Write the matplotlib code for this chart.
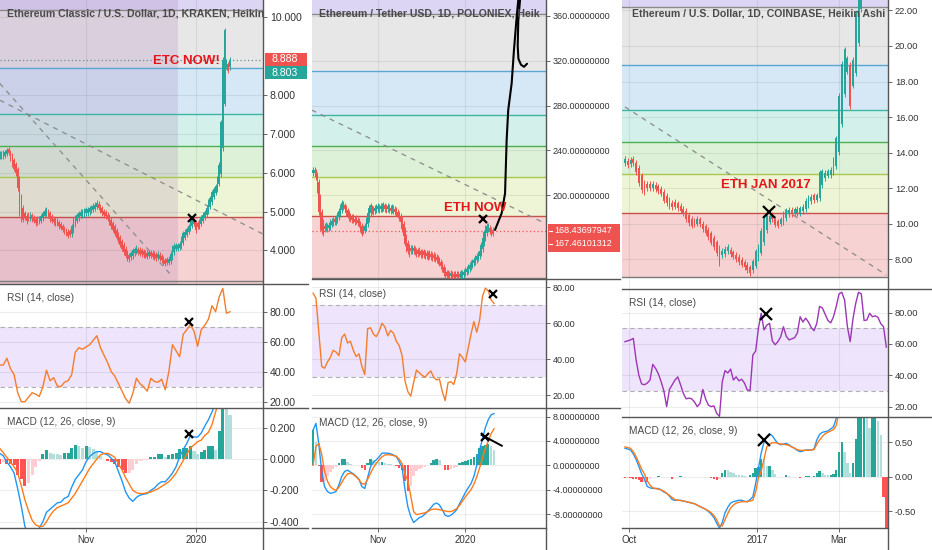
import numpy as np
import pandas as pd
import matplotlib
matplotlib.use("Agg")
import matplotlib.pyplot as plt
import matplotlib.dates as mdates
from matplotlib.lines import Line2D
from matplotlib.patches import Rectangle
from matplotlib.ticker import FixedLocator, FixedFormatter, FormatStrFormatter

plt.rcParams["font.family"] = ["Liberation Sans", "DejaVu Sans"]

W, H = 932, 550
UP, DOWN = "#26a69a", "#ef5350"
ORANGE, PURPLE = "#f57c2a", "#9c36b5"
MACD_BLUE, MACD_ORANGE = "#2196f3", "#ff7a1a"
SEP = "#555555"

# ---------------- left: ETC / USD (Kraken) ----------------
LEFT_START = "2019-09-14"
left_close = [
    6.40, 6.42, 6.45, 6.52, 6.58, 6.50, 6.35, 6.20, 6.10, 5.98,
    5.60, 4.95, 4.80, 4.78, 4.85, 4.75, 4.82, 4.88, 4.80, 4.76,
    4.70, 4.72, 4.80, 4.88, 4.96, 5.02, 5.05, 4.90, 4.80, 4.76,
    4.72, 4.70, 4.68, 4.62, 4.58, 4.53, 4.48, 4.42, 4.38, 4.40,
    4.62, 4.80, 4.85, 4.90, 4.96, 4.92, 4.95, 4.98, 4.96, 5.00,
    5.05, 5.08, 5.10, 5.18, 5.22, 5.10, 5.02, 4.95, 4.90, 4.88,
    4.82, 4.72, 4.62, 4.53, 4.42, 4.33, 4.25, 4.15, 4.05, 3.95,
    3.86, 3.80, 3.77, 3.88, 4.00, 4.02, 3.98, 3.94, 3.92, 3.90,
    3.88, 3.86, 3.84, 3.88, 3.86, 3.84, 3.82, 3.80, 3.82, 3.79,
    3.75, 3.70, 3.66, 3.68, 3.76, 3.92, 4.08, 4.12, 4.05, 4.10,
    4.12, 4.30, 4.45, 4.48, 4.55, 4.62, 4.72, 4.80, 4.68, 4.52,
    4.60, 4.75, 4.85, 4.92, 4.98, 5.10, 5.25, 5.35, 5.50, 5.58,
    5.65, 5.85, 6.20, 7.30, 8.90, 9.65, 8.85, 8.62, 8.90,
]
left_rsi = [
    44.4, 44.5, 49, 42, 38, 26, 20, 20, 23, 26,
    25, 23.5, 30, 41, 34, 36, 30.5, 30, 33, 34,
    38, 53, 56, 55, 56.5, 58, 61, 64, 56, 51,
    46, 40, 37, 32, 27, 22, 19, 25.6, 35.6, 32,
    30, 27, 35.6, 33.5, 33, 35, 28, 40, 58, 54,
    50, 65, 68, 71.5, 67, 57, 68, 71, 75, 84,
    80, 90, 95.6, 79, 80,
]
left_macd = [
    0.036, 0.02, -0.02, -0.05, -0.09, -0.19, -0.30, -0.43, -0.48, -0.49,
    -0.47, -0.44, -0.40, -0.34, -0.32, -0.30, -0.28, -0.275, -0.25, -0.24,
    -0.18, -0.13, -0.10, -0.07, -0.017, 0.015, 0.036, 0.047, 0.047, 0.035,
    0.026, 0.005, -0.02, -0.08, -0.14, -0.21, -0.25, -0.27, -0.245, -0.23,
    -0.225, -0.22, -0.20, -0.185, -0.16, -0.145, -0.145, -0.12, -0.09, -0.05,
    0.015, 0.06, 0.10, 0.15, 0.14, 0.14, 0.165, 0.21, 0.25, 0.30,
    0.36, 0.56, 0.80, 0.83, 0.84,
]
left_signal = [
    0.068, 0.04, 0.01, -0.02, -0.05, -0.09, -0.17, -0.26, -0.33, -0.39,
    -0.42, -0.43, -0.43, -0.40, -0.36, -0.33, -0.31, -0.30, -0.29, -0.28,
    -0.25, -0.22, -0.18, -0.14, -0.10, -0.06, -0.03, 0.0, 0.026, 0.035,
    0.036, 0.025, 0.01, -0.03, -0.07, -0.12, -0.16, -0.20, -0.215, -0.22,
    -0.22, -0.215, -0.21, -0.20, -0.19, -0.175, -0.16, -0.145, -0.12, -0.09,
    -0.05, -0.01, 0.03, 0.07, 0.09, 0.11, 0.12, 0.15, 0.17, 0.22,
    0.30, 0.38, 0.44, 0.50, 0.56,
]
left_trend_dates = [("2019-09-14", "2019-12-19"), ("2019-09-14", "2020-02-07")]
left_trend_prices = [(8.29, 3.33), (7.86, 4.43)]
left_marks = [("2019-12-30", 4.84), ("2019-12-28", 73.3), ("2019-12-28", 0.16)]

# ---------------- middle: ETH / USDT (Poloniex) ----------------
MID_START = "2019-09-17"
mid_close = [
    220, 222, 216, 205, 185, 172, 168, 166, 170, 172,
    170, 173, 176, 177, 178, 176, 180, 183, 186, 190,
    193, 191, 188, 184, 182, 180, 179, 178, 178, 176,
    177, 175, 174, 170, 166, 168, 173, 178, 184, 189,
    191, 186, 185, 187, 189, 188, 187, 188, 190, 189,
    188, 187, 188, 187, 186, 187, 186, 185, 184, 182,
    180, 176, 170, 164, 157, 152, 150, 148, 150, 151,
    150, 149, 148, 148, 149, 147, 147, 147, 146, 146,
    145, 146, 145, 144, 144, 143, 142, 141, 140, 137,
    134, 131, 129, 128, 128, 127, 128, 127, 127, 128,
    127, 127, 128, 129, 130, 132, 133, 134, 136, 138,
    140, 141, 142, 144, 146, 148, 150, 156, 162, 167,
    171, 173, 170, 168, 166, 166,
]
mid_rsi = [
    76.7, 74, 55, 36, 35, 38.5, 41, 45, 44, 42,
    52, 54, 49, 50, 45, 41.5, 43, 36, 31.5, 57,
    57.5, 54, 52.6, 55.5, 60, 58, 53, 56, 54.4, 50,
    47.5, 42, 28, 22, 19.5, 27, 34, 32.5, 31, 30,
    32, 33.5, 30, 28.5, 29, 22, 17, 27, 27.5, 26,
    32, 43, 41, 38.5, 46, 54, 61, 55, 61.9, 75,
    79.5, 78, 73, 71,
]
mid_macd = [
    5.8, 6.9, 3.5, -1.0, -3.5, -4.3, -4.6, -4.5, -4.3, -3.2,
    -1.8, -1.0, -0.8, -1.1, -1.4, -1.8, -2.3, -3.5, -3.8, -2.0,
    -0.2, 0.5, 0.9, 1.4, 2.0, 2.0, 2.0, 1.9, 1.7, 1.4,
    0.6, -0.4, -4.0, -6.8, -8.4, -9.4, -9.0, -8.6, -8.4, -8.0,
    -7.5, -7.0, -6.4, -6.2, -6.5, -7.3, -8.2, -8.4, -8.2, -7.8,
    -7.3, -6.3, -5.4, -4.5, -3.7, -3.0, -1.8, 0.0, 2.5, 4.4,
    6.2, 7.5, 8.3, 8.5,
]
mid_signal = [
    0.0, 3.1, 3.6, 1.8, -1.0, -2.6, -3.5, -3.9, -4.1, -3.6,
    -2.8, -2.0, -1.4, -1.3, -1.5, -1.9, -2.4, -3.0, -3.1, -2.3,
    -1.3, -0.4, 0.3, 0.9, 1.4, 1.7, 1.75, 1.7, 1.6, 1.5,
    1.0, 0.3, -1.5, -2.5, -5.0, -7.6, -8.1, -8.0, -7.9, -7.8,
    -7.6, -7.3, -7.2, -7.2, -7.3, -7.4, -7.5, -7.6, -7.6, -7.4,
    -7.1, -6.6, -5.9, -5.2, -4.6, -4.0, -3.1, -1.9, -0.4, 1.2,
    2.8, 4.0, 5.2, 6.0,
]
mid_trend_dates = [("2019-09-16", "2020-02-25")]
mid_trend_prices = [(276.0, 175.4)]
mid_marks = [("2020-01-13 12:00", 179.0), ("2020-01-20 12:00", 76.3), ("2020-01-15", 4.6)]
# hand drawn projection, days after 2019-11-01 and price
mid_draw_days = [81.7, 86.3, 88.7, 89.8, 90.9, 93.3, 94.9, 96.8, 97.9, 98.6,
                 99.1, 97.9, 97.5, 98.0, 99.8, 101.9, 104.0]
mid_draw_prices = [169.2, 184.0, 201.9, 249.3, 276.0, 299.9, 329.5, 359.1, 374.0, 392.0,
                   374.0, 355.4, 333.2, 321.6, 316.3, 314.5, 317.2]

# ---------------- right: ETH / USD (Coinbase), 2016-17 ----------------
RIGHT_START = "2016-09-28"
right_close = [
    13.4, 13.3, 13.5, 13.4, 12.9, 12.3, 11.9, 11.8, 12.0, 12.0,
    12.1, 11.95, 11.85, 11.7, 11.3, 11.15, 11.0, 10.95, 10.97, 10.9,
    10.75, 10.6, 10.25, 10.05, 9.9, 9.95, 10.03, 10.0, 9.7, 9.5,
    9.25, 8.95, 8.7, 8.35, 7.8, 8.4, 8.6, 8.55, 8.3, 8.15,
    8.0, 7.85, 7.7, 7.55, 7.4, 7.22, 7.9, 8.45, 8.7, 9.6,
    10.3, 10.6, 10.45, 10.25, 9.95, 9.9, 10.2, 10.55, 10.75, 10.65,
    10.55, 10.6, 10.65, 10.78, 10.95, 11.3, 11.5, 11.45, 11.35, 11.55,
    12.9, 12.95, 12.85, 12.8, 13.05, 13.6, 14.8, 17.2, 19.0, 19.8,
    19.3, 16.6, 19.2, 21.8, 24.0, 27.0, 29.0, 30.0, 28.5, 29.5,
    30.5, 31.0, 30.0, 29.0, 27.5,
]
right_rsi = [
    61.5, 62, 62.6, 63.6, 50, 40, 34.5, 34, 35, 37,
    47, 44.5, 41, 36, 30, 20, 31, 34, 37, 39,
    34, 28.5, 25, 25.5, 25, 23, 20, 22, 31, 25,
    21, 20, 20.5, 15.7, 13.8, 36, 43, 41.5, 44, 37,
    39, 36.5, 37.5, 35, 30.6, 30.4, 53, 55.5, 70, 79.6,
    69, 72, 73.2, 62, 59.5, 61.5, 64.5, 71, 65, 62.6,
    63.3, 64, 67, 77.4, 74, 76.5, 74, 70.5, 68.5, 73.2,
    84, 83, 79, 75, 73.5, 77.4, 84, 92, 93, 88,
    71, 61.5, 76, 86, 93, 92, 75, 75.3, 79.6, 77.4,
    78, 77, 73, 71, 58,
]
right_macd = [
    0.41, 0.40, 0.385, 0.33, 0.25, 0.15, 0.04, -0.03, -0.14, -0.16,
    -0.17, -0.17, -0.17, -0.19, -0.22, -0.24, -0.28, -0.33, -0.34, -0.34,
    -0.34, -0.35, -0.36, -0.37, -0.38, -0.39, -0.41, -0.43, -0.45, -0.47,
    -0.50, -0.54, -0.59, -0.67, -0.74, -0.66, -0.52, -0.44, -0.38, -0.36,
    -0.35, -0.34, -0.34, -0.355, -0.36, -0.33, -0.29, -0.10, 0.12, 0.34,
    0.50, 0.58, 0.62, 0.59, 0.53, 0.48, 0.46, 0.47, 0.48, 0.46,
    0.43, 0.41, 0.38, 0.36, 0.37, 0.385, 0.385, 0.385, 0.40, 0.53,
    0.61, 0.64, 0.65, 0.66, 0.69, 0.72, 0.84, 1.30, 1.70, 1.75,
    1.70, 1.60, 1.80, 2.30, 2.90, 3.40, 3.70, 3.90, 3.70, 3.90,
    4.10, 4.10, 4.00, 3.10, 2.80,
]
right_signal = [
    0.43, 0.42, 0.41, 0.36, 0.29, 0.20, 0.11, 0.04, -0.06, -0.12,
    -0.16, -0.17, -0.18, -0.19, -0.21, -0.24, -0.27, -0.30, -0.33, -0.34,
    -0.345, -0.35, -0.36, -0.37, -0.38, -0.39, -0.41, -0.43, -0.45, -0.47,
    -0.49, -0.52, -0.56, -0.62, -0.71, -0.71, -0.62, -0.53, -0.45, -0.41,
    -0.38, -0.37, -0.36, -0.36, -0.36, -0.35, -0.34, -0.22, -0.02, 0.08,
    0.25, 0.43, 0.47, 0.49, 0.49, 0.48, 0.47, 0.47, 0.46, 0.45,
    0.43, 0.41, 0.39, 0.38, 0.38, 0.38, 0.38, 0.385, 0.39, 0.47,
    0.53, 0.58, 0.62, 0.64, 0.66, 0.68, 0.74, 0.95, 1.20, 1.40,
    1.50, 1.55, 1.60, 1.75, 2.00, 2.40, 2.70, 2.95, 3.00, 3.05,
    3.20, 3.30, 3.40, 3.40, 3.55,
]
right_trend_dates = [("2016-09-28", "2017-04-04")]
right_trend_prices = [(16.57, 7.13)]
right_marks = [("2017-01-09 22:00", 10.69), ("2017-01-07 12:00", 78.9), ("2017-01-06", 0.53)]

FIB_RATIOS = [0, 0.236, 0.382, 0.5, 0.618, 0.786, 1.0]
FIB_FILLS = ["#f6d2d2", "#eef4d6", "#ddf1d8", "#d3f1ea", "#d6e8f5", "#e7e7e7"]
FIB_LINES = ["#7a7a7a", "#c9504a", "#a8c94e", "#4caf50", "#3db5a5", "#5aa7d6", "#8a8a8a"]
FIB_TOP = "#dcd5f3"


def px_axes(fig, x0, x1, y0, y1, sharex=None):
    return fig.add_axes([x0 / W, 1 - y1 / H, (x1 - x0) / W, (y1 - y0) / H], sharex=sharex)


def fig_line(fig, x0, y0, x1, y1, color=SEP, lw=1.0, **kw):
    fig.add_artist(Line2D([x0 / W, x1 / W], [1 - y0 / H, 1 - y1 / H], color=color, lw=lw,
                          transform=fig.transFigure, **kw))


def fig_text(fig, x, y, s, **kw):
    return fig.text(x / W, 1 - y / H, s, **kw)


def base_style(ax, ylim, ticks, fmt, fs):
    for s in ax.spines.values():
        s.set_visible(False)
    ax.set_ylim(*ylim)
    ax.set_yticks(ticks)
    ax.yaxis.set_major_formatter(FormatStrFormatter(fmt))
    ax.yaxis.tick_right()
    ax.tick_params(axis="y", length=3, width=0.7, color="#666666", labelsize=fs,
                   labelcolor="#333333", pad=2)
    ax.tick_params(axis="x", length=0, labelbottom=False)
    ax.grid(True, color="#000000", alpha=0.07, lw=0.8)
    ax.set_axisbelow(True)


def draw_fib(ax, lo, hi, fill_below):
    lv = [lo + r * (hi - lo) for r in FIB_RATIOS]
    ymin, ymax = ax.get_ylim()
    if fill_below:
        ax.axhspan(ymin, lv[0], color=FIB_FILLS[0], lw=0, zorder=0.1)
    for a, b, c in zip(lv[:-1], lv[1:], FIB_FILLS):
        ax.axhspan(a, b, color=c, lw=0, zorder=0.1)
    ax.axhspan(lv[-1], ymax, color=FIB_TOP, lw=0, zorder=0.1)
    for v, c in zip(lv, FIB_LINES):
        ax.axhline(v, color=c, lw=1.0, zorder=0.6)


def draw_candles(ax, dates, closes, width, min_body, wick):
    # Heikin Ashi style: open is the midpoint of the previous candle body
    x = mdates.date2num(dates)
    c = np.asarray(closes, float)
    o = np.empty_like(c)
    o[0] = c[0]
    for i in range(1, len(c)):
        o[i] = (o[i - 1] + c[i - 1]) / 2
    cols = [UP if cc >= oo else DOWN for oo, cc in zip(o, c)]
    lo = np.minimum(o, c)
    body = np.maximum(np.abs(c - o), min_body)
    ax.vlines(x, lo - wick, lo + body + wick, colors=cols, lw=0.7, zorder=2)
    ax.bar(x, body, bottom=lo, width=width, color=cols, lw=0, zorder=2.1)


def hist_colors(h):
    out, prev = [], 0.0
    for v in h:
        if v >= 0:
            out.append("#26a69a" if v >= prev else "#b2dfdb")
        else:
            out.append("#ff5252" if v < prev else "#ffcdd2")
        prev = v
    return out


def draw_panel(fig, p):
    x0, x1, xr = p["xbox"]
    r0, r1, r2, r3 = p["rows"]
    axp = px_axes(fig, x0, x1, r0, r1)
    axr = px_axes(fig, x0, x1, r1, r2, sharex=axp)
    axm = px_axes(fig, x0, x1, r2, r3, sharex=axp)

    base_style(axp, p["price_ylim"], p["price_ticks"], p["price_fmt"], p["fs"])
    base_style(axr, p["rsi_ylim"], [20, 40, 60, 80], "%.2f", p["fs"])
    base_style(axm, p["macd_ylim"], p["macd_ticks"], p["macd_fmt"], p["fs"])

    axp.set_xlim(mdates.date2num(pd.to_datetime(p["xlim"])))
    axm.xaxis.set_major_locator(FixedLocator(mdates.date2num(pd.to_datetime(p["xticks"]))))
    axm.xaxis.set_major_formatter(FixedFormatter(p["xlabels"]))
    axm.tick_params(axis="x", labelbottom=True, length=3, width=0.7, color="#666666",
                    labelsize=7, labelcolor="#333333", pad=2)

    # price pane
    draw_fib(axp, *p["fib"], p["fib_below"])
    cdates = pd.date_range(p["start"], periods=len(p["close"]), freq=p["cfreq"])
    draw_candles(axp, cdates, p["close"], p["cwidth"], p["min_body"], p["wick"])
    for (d0, d1), (v0, v1) in zip(p["trend_dates"], p["trend_prices"]):
        axp.plot(mdates.date2num(pd.to_datetime([d0, d1])), [v0, v1], color="#8a8a8a",
                 lw=0.9, ls=(0, (4, 4)), zorder=1.5)
    tx, ty = p["title_xy"]
    fig_text(fig, x0 + tx, ty, p["title"], fontsize=7.6, color="#4a4a4a",
             fontweight="bold", va="center", ha="left", zorder=5)

    # RSI pane
    idates = pd.date_range(p["start"], periods=len(p["rsi"]), freq="2D")
    axr.axhspan(30, 70, color="#eee4fb", lw=0, zorder=0.1)
    for lv in (30, 70):
        axr.axhline(lv, color="#b0b0b0", lw=0.8, ls=(0, (4, 3)), zorder=0.6)
    axr.plot(idates, p["rsi"], color=p["rsi_color"], lw=1.0, zorder=2)
    fig_text(fig, x0 + 7, r1 + p["rsi_label_y"], "RSI (14, close)", fontsize=7.3,
             color="#4a4a4a", va="center", zorder=5)

    # MACD pane
    mdates_ = pd.date_range(p["start"], periods=len(p["macd"]), freq="2D")
    hist = np.asarray(p["macd"]) - np.asarray(p["signal"])
    axm.bar(mdates_, hist, width=1.7, color=hist_colors(hist), lw=0, zorder=1)
    axm.plot(mdates_, p["macd"], color=MACD_BLUE, lw=1.0, zorder=2)
    axm.plot(mdates_, p["signal"], color=MACD_ORANGE, lw=1.0, zorder=2)
    fig_text(fig, x0 + 7, r2 + p["macd_label_y"], "MACD (12, 26, close, 9)", fontsize=7.3,
             color="#4a4a4a", va="center", zorder=5)

    # marks
    for ax, (d, v) in zip((axp, axr, axm), p["marks"]):
        ax.plot(mdates.date2num(pd.Timestamp(d)), v, marker="x", ms=p["mark_ms"], mew=1.6,
                color="black", zorder=6)

    # pane borders
    fig_line(fig, x0, r1, xr, r1)
    fig_line(fig, x0, r2, xr, r2)
    fig_line(fig, x0, r3, p["bottom_right"], r3)
    fig_line(fig, x1, 0, x1, H)
    return axp, axr, axm


fig = plt.figure(figsize=(W / 100, H / 100), dpi=100)
fig.patch.set_facecolor("white")

left = dict(
    xbox=(0, 263, 308), rows=(0, 284, 408, 528), bottom_right=308,
    start=LEFT_START, close=left_close, cfreq="D", cwidth=0.85, min_body=0.1, wick=0.06,
    rsi=left_rsi, rsi_color=ORANGE, macd=left_macd, signal=left_signal,
    xlim=["2019-09-14 04:00", "2020-02-07 08:00"],
    xticks=["2019-11-01", "2020-01-01"], xlabels=["Nov", "2020"],
    price_ylim=(3.14, 10.43), price_ticks=[4, 5, 6, 7, 8, 10], price_fmt="%.3f",
    rsi_ylim=(15.8, 98.5), macd_ylim=(-0.44, 0.325), macd_ticks=[-0.4, -0.2, 0, 0.2],
    macd_fmt="%.3f", fs=7.6, fib=(3.22, 10.17), fib_below=True,
    trend_dates=left_trend_dates, trend_prices=left_trend_prices, marks=left_marks, mark_ms=6,
    title="Ethereum Classic / U.S. Dollar, 1D, KRAKEN, Heikin", title_xy=(7, 13.5),
    rsi_label_y=14, macd_label_y=14,
)
mid = dict(
    xbox=(312, 546, 620), rows=(0, 279, 408, 528), bottom_right=546,
    start=MID_START, close=mid_close, cfreq="D", cwidth=0.85, min_body=3.0, wick=2.5,
    rsi=mid_rsi, rsi_color=ORANGE, macd=mid_macd, signal=mid_signal,
    xlim=["2019-09-16 06:00", "2020-02-26 05:00"],
    xticks=["2019-11-01", "2020-01-01"], xlabels=["Nov", "2020"],
    price_ylim=(125.5, 374.0), price_ticks=[200, 240, 280, 320, 360], price_fmt="%.8f",
    rsi_ylim=(12.9, 84.6), macd_ylim=(-10.3, 9.42), macd_ticks=[-8, -4, 0, 4, 8],
    macd_fmt="%.8f", fs=6.5, fib=(126.0, 361.5), fib_below=True,
    trend_dates=mid_trend_dates, trend_prices=mid_trend_prices, marks=mid_marks, mark_ms=6,
    title="Ethereum / Tether USD, 1D, POLONIEX, Heik", title_xy=(7, 14),
    rsi_label_y=15, macd_label_y=15,
)
right = dict(
    xbox=(622, 888, 932), rows=(0, 289, 417, 528), bottom_right=888,
    start=RIGHT_START, close=right_close, cfreq="2D", cwidth=1.3, min_body=0.25, wick=0.15,
    rsi=right_rsi, rsi_color=PURPLE, macd=right_macd, signal=right_signal,
    xlim=["2016-09-25 21:00", "2017-04-05 05:00"],
    xticks=["2016-10-01", "2017-01-01", "2017-03-01"], xlabels=["Oct", "2017", "Mar"],
    price_ylim=(6.34, 22.58), price_ticks=[8, 10, 12, 14, 16, 18, 20, 22], price_fmt="%.2f",
    rsi_ylim=(13.4, 95.1), macd_ylim=(-0.74, 0.861), macd_ticks=[-0.5, 0, 0.5],
    macd_fmt="%.2f", fs=6.7, fib=(7.01, 22.2), fib_below=False,
    trend_dates=right_trend_dates, trend_prices=right_trend_prices, marks=right_marks, mark_ms=8,
    title="Ethereum / U.S. Dollar, 1D, COINBASE, Heikin Ashi", title_xy=(10, 13.3),
    rsi_label_y=14, macd_label_y=14,
)

axL, axLr, axLm = draw_panel(fig, left)
axM, axMr, axMm = draw_panel(fig, mid)
axR, axRr, axRm = draw_panel(fig, right)

# left: highlighted date range and current price
axL.axvspan(mdates.date2num(pd.Timestamp("2019-09-10")), mdates.date2num(pd.Timestamp("2019-12-22")),
            color="#9a62ad", alpha=0.17, lw=0, zorder=0.3)
axL.axhline(8.888, color="#6a8f8f", lw=0.9, ls=(0, (1, 2)), zorder=1.6)
fig_text(fig, 186.5, 61, "ETC NOW!", color="#e5161b", fontsize=9.5, fontweight="bold",
         ha="center", va="center")
fig.add_artist(Rectangle((265 / W, 1 - 66 / H), 42 / W, 13 / H, transform=fig.transFigure,
                         color="#ef5350", lw=0))
fig.add_artist(Rectangle((265 / W, 1 - 79 / H), 42 / W, 13 / H, transform=fig.transFigure,
                         color="#26a69a", lw=0))
fig_text(fig, 272, 59.5, "8.888", color="white", fontsize=7.6, va="center")
fig_text(fig, 272, 72.5, "8.803", color="white", fontsize=7.6, va="center")

# middle: current price, projection drawing, long stroke on MACD
axM.axhline(168.437, color="#ef5350", lw=0.9, ls=(0, (1, 2)), zorder=1.6)
axM.plot(mdates.date2num(pd.Timestamp("2019-11-01")) + np.asarray(mid_draw_days), mid_draw_prices,
         color="black", lw=1.5, zorder=7, solid_capstyle="round")
axMm.plot(mdates.date2num(pd.to_datetime(["2020-01-12 10:00", "2020-01-26 10:00"])), [4.98, 3.22],
          color="black", lw=1.4, zorder=7)
fig_text(fig, 475.5, 208, "ETH NOW", color="#e5161b", fontsize=9.5, fontweight="bold",
         ha="center", va="center")
fig.add_artist(Rectangle((548 / W, 1 - 252 / H), 72 / W, 28 / H, transform=fig.transFigure,
                         color="#ef5350", lw=0))
fig_text(fig, 554, 231, "168.43697947", color="white", fontsize=6.5, va="center")
fig_text(fig, 554, 244, "167.46101312", color="white", fontsize=6.5, va="center")
fig_line(fig, 549, 231, 552, 231, color="white", lw=0.8)
fig_line(fig, 549, 244, 552, 244, color="white", lw=0.8)

# right
fig_text(fig, 765.5, 184.5, "ETH JAN 2017", color="#e5161b", fontsize=9.5, fontweight="bold",
         ha="center", va="center")

fig.savefig("out.png", dpi=100, facecolor="white")
